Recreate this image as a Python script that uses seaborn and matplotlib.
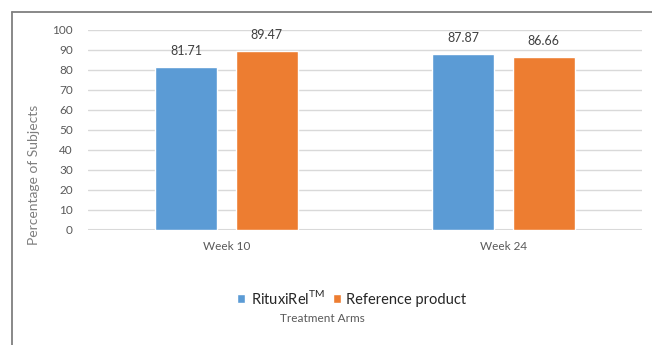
import matplotlib
matplotlib.use("Agg")
import matplotlib.pyplot as plt
from matplotlib.lines import Line2D
import pandas as pd
import seaborn as sns

weeks = ["Week 10", "Week 24"]
arms = [r"RituxiRel$^{\mathrm{TM}}$", "Reference product"]
rituxirel = [81.71, 87.87]
reference = [89.47, 86.66]
y_ticks = list(range(0, 101, 10))

df = pd.DataFrame({
    "week": weeks * 2,
    "arm": [arms[0]] * len(weeks) + [arms[1]] * len(weeks),
    "pct": rituxirel + reference,
})

sns.set_theme(style="white")
plt.rcParams["font.family"] = ["Lato", "DejaVu Sans"]
plt.rcParams["mathtext.fontset"] = "custom"
plt.rcParams["mathtext.rm"] = "Lato"

fig = plt.figure(figsize=(6.52, 3.45), dpi=100)
fig.patch.set_facecolor("white")
ax = fig.add_axes([88 / 652, 1 - 230 / 345, 554 / 652, 200 / 345])

sns.barplot(data=df, x="week", y="pct", hue="arm", order=weeks, hue_order=arms,
            palette=["#5B9BD5", "#ED7D31"], width=0.58, gap=0.23,
            saturation=1, ax=ax, legend=True, zorder=3)

ax.set_ylim(0, 100)
ax.set_yticks(y_ticks)
ax.yaxis.grid(True, color="#D9D9D9", linewidth=1.0, zorder=0)
ax.set_axisbelow(True)
for s in ax.spines.values():
    s.set_visible(False)
ax.axhline(0, color="#D9D9D9", linewidth=1.5, zorder=1)

ax.tick_params(axis="both", length=0, labelsize=8.5, labelcolor="#595959")
ax.tick_params(axis="y", pad=11)
ax.tick_params(axis="x", pad=8)
ax.set_xlabel("")
ax.set_ylabel("")
fig.text(34 / 652, 1 - 175 / 345, "Percentage of Subjects", rotation=90,
         ha="center", va="center", fontsize=10, color="#7F7F7F")

# value labels above each bar
for cont in ax.containers:
    for bar in cont:
        h = bar.get_height()
        ax.annotate(f"{h:.2f}", (bar.get_x() + bar.get_width() / 2, h),
                    xytext=(0, 11.5), textcoords="offset points",
                    ha="center", va="center", fontsize=9, color="#404040",
                    annotation_clip=False)

handles, labels = ax.get_legend_handles_labels()
ax.get_legend().remove()
fig.legend(handles, labels, loc="center", bbox_to_anchor=(352 / 652, 1 - 298 / 345),
           ncol=2, frameon=False, fontsize=10.5, handlelength=0.55, handleheight=0.55,
           handletextpad=0.4, columnspacing=0.5, labelcolor="#262626")
fig.text(322 / 652, 1 - 318 / 345, "Treatment Arms", ha="center", va="center",
         fontsize=8.5, color="#595959")

# frame lines along the top and left edges
fig.add_artist(Line2D([12 / 652, 12 / 652], [0, 1 - 12 / 345],
                      transform=fig.transFigure, color="#7F7F7F", linewidth=1.3))
fig.add_artist(Line2D([12 / 652, 1], [1 - 12 / 345, 1 - 12 / 345],
                      transform=fig.transFigure, color="#7F7F7F", linewidth=1.3))

fig.savefig("out.png", dpi=100)
